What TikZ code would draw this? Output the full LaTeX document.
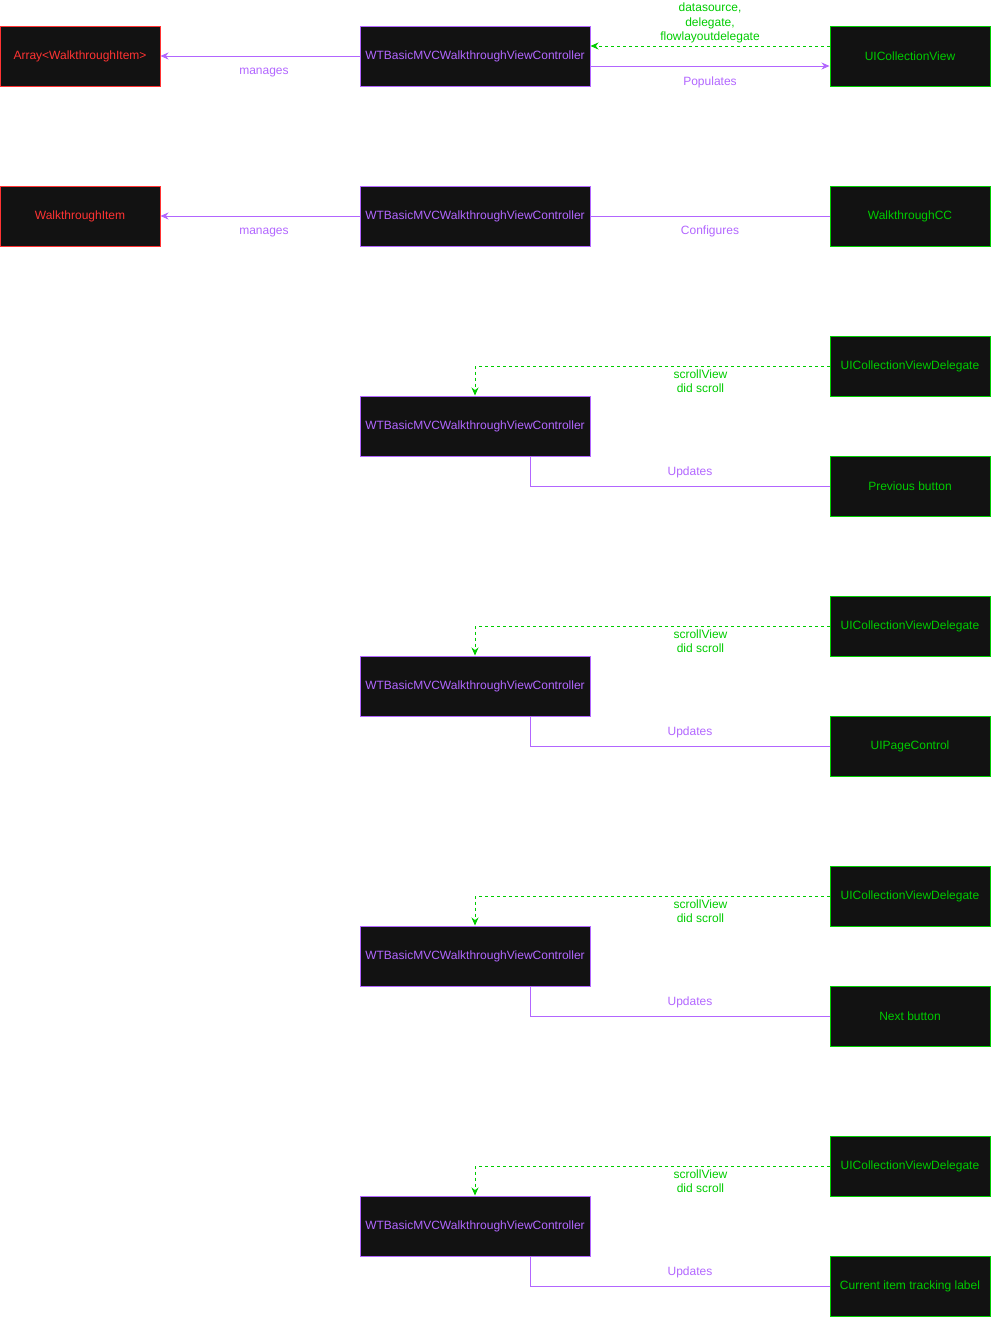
\documentclass[tikz,border=0pt]{standalone}
\usepackage{fontspec}
\setmainfont{Liberation Sans}
\usetikzlibrary{arrows.meta}
\definecolor{boxbg}{HTML}{121212}
\definecolor{vcpurple}{HTML}{B266FF}
\definecolor{itemred}{HTML}{FF3333}
\definecolor{uigreen}{HTML}{00CC00}

\begin{document}
\begin{tikzpicture}[x=1pt, y=-1pt, font=\fontsize{12}{14.5}\selectfont,
  box/.style={fill=boxbg, line width=1pt, minimum height=60pt, inner sep=0pt},
  vcbox/.style={box, draw=vcpurple, text=vcpurple, minimum width=230pt},
  redbox/.style={box, draw=itemred, text=itemred, minimum width=160pt},
  greenbox/.style={box, draw=uigreen, text=uigreen, minimum width=160pt},
  purpline/.style={draw=vcpurple, line width=.9pt},
  greendash/.style={draw=uigreen, line width=.9pt, dash pattern=on 3pt off 3pt, -{Stealth[length=8pt,width=7pt]}},
  purplabel/.style={text=vcpurple, align=center},
  greenlabel/.style={text=uigreen, align=center}]
\useasboundingbox (0,0) rectangle (992,1318);

% first row
\node[redbox] (array) at (80,56) {Array<WalkthroughItem>};
\node[vcbox] (vcone) at (475,56) {WTBasicMVCWalkthroughViewController};
\node[greenbox] (collview) at (910,56) {UICollectionView};
\draw[purpline, -{Stealth[length=8pt,width=7pt]}] (vcone) -- (array)
  node[purplabel, pos=.48, below=8pt] {manages};
\draw[greendash] ([yshift=10pt]collview.west) -- ([yshift=10pt]vcone.east)
  node[greenlabel, midway, above=-1pt] {datasource,\\delegate,\\flowlayoutdelegate};
\draw[purpline, -{Stealth[length=8pt,width=7pt]}] ([yshift=-10pt]vcone.east) -- ([yshift=-10pt]collview.west)
  node[purplabel, midway, below=7pt] {Populates};

% second row
\node[redbox] (item) at (80,216) {WalkthroughItem};
\node[vcbox] (vctwo) at (475,216) {WTBasicMVCWalkthroughViewController};
\node[greenbox] (cell) at (910,216) {WalkthroughCC};
\draw[purpline, -{Stealth[length=8pt,width=7pt]}] (vctwo) -- (item)
  node[purplabel, pos=.48, below=8pt] {manages};
\draw[purpline] (vctwo) -- (cell)
  node[purplabel, midway, below=6pt] {Configures};

% delegate rows
\foreach \i/\y/\txt in {3/366/Previous button, 4/626/UIPageControl,
                        5/896/Next button, 6/1166/Current item tracking label}{
  \node[greenbox] (delegate\i) at (910,\y) {UICollectionViewDelegate};
  \node[vcbox] (vc\i) at (475,\y+60) {WTBasicMVCWalkthroughViewController};
  \node[greenbox] (target\i) at (910,\y+120) {\txt};
  \draw[greendash] (delegate\i.west) -| (vc\i.north)
    node[greenlabel, pos=.182, below=0pt] {scrollView\\did scroll};
  \draw[purpline] ([xshift=55pt]vc\i.south) |- (target\i.west)
    node[purplabel, pos=.767, above=4pt] {Updates};
}
\end{tikzpicture}
\end{document}
